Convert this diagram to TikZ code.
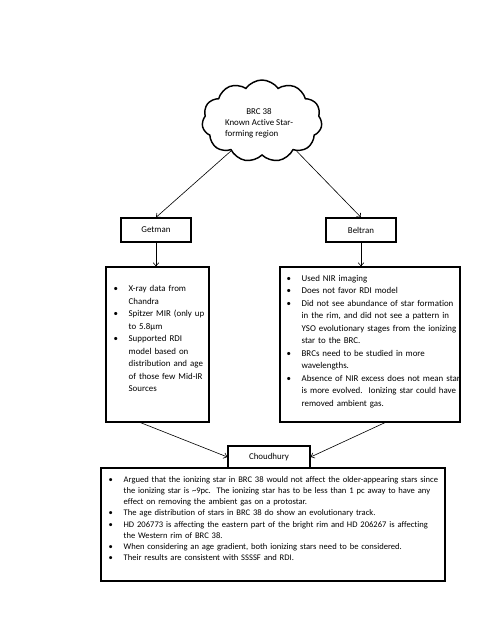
\documentclass[tikz,border=0pt]{standalone}
\usepackage{fontspec}
\setmainfont[Ligatures=NoCommon]{Carlito}
\usetikzlibrary{shapes.symbols,arrows.meta,positioning}

% 参考图的一个像素
\newlength{\px}
\setlength{\px}{1.2364pt}

% 带悬挂缩进的项目符号
\newcommand{\bul}[1]{\par\hangindent=15\px\hangafter=1\noindent\makebox[15\px][l]{\textbullet}#1}

\begin{document}
\begin{tikzpicture}[
    x=1\px, y=-1\px,
    font=\fontsize{11pt}{13.4pt}\selectfont,
    % 定义统一的线条样式
    title_box/.style={draw, line width=1.5pt, minimum width=70\px, minimum height=24\px, inner sep=0},
    list_box/.style={draw, line width=1.5pt, inner sep=0},
    list_text/.style={anchor=north west, inner sep=0, align=left, text width=#1},
    arrow_line/.style={line width=0.75pt, -{Straight Barb[length=4pt,width=7pt]}}
]

    % --- 页面范围 ---
    \fill[white] (0,0) rectangle (495,640);
    \useasboundingbox (0,0) rectangle (495,640);

    % --- 云 ---
    \node[cloud, draw, line width=1.8pt, cloud puffs=11, cloud puff arc=110, aspect=1.4,
          minimum width=120\px, minimum height=82\px, inner sep=0] (brc) at (262,121) {};
    \node (brctext) at (259,123) {\begin{tabular}{@{}l@{}}\multicolumn{1}{@{}c@{}}{BRC 38}\\Known Active Star-\\forming region\end{tabular}};

    % --- 标题框 ---
    \node[title_box] (getman) at (156,230) {Getman};
    \node[title_box] (beltran) at (361,230) {Beltran};
    \node[title_box, minimum width=82\px, minimum height=22\px] (choudhury) at (269,457) {Choudhury};

    % --- 内容框 ---
    \node[list_box, minimum width=103\px, minimum height=155\px] (getmanbox) at (157.5,344.5) {};
    \node[list_box, minimum width=180\px, minimum height=155\px] (beltranbox) at (370,344.5) {};
    \node[list_box, minimum width=344\px, minimum height=113\px] (summarybox) at (273,524.5) {};

    % 1. Getman 的条目
    \node[list_text=120\px, font=\fontsize{11pt}{15.45pt}\selectfont] (getmantext) at (113.5,279) {%
        \bul{X-ray data from\newline Chandra}
        \bul{Spitzer MIR (only up\newline to 5.8μm}
        \bul{Supported RDI\newline model based on\newline distribution and age\newline of those few Mid-IR\newline Sources}\par};

    % 2. Beltran 的条目
    \node[list_text=200\px, font=\fontsize{11pt}{15.45pt}\selectfont] (beltrantext) at (286.5,268.5) {%
        \bul{Used NIR imaging}
        \bul{Does not favor RDI model}
        \bul{Did not see abundance of star formation\newline in the rim, and did not see a pattern in\newline YSO evolutionary stages from the ionizing\newline star to the BRC.}
        \bul{BRCs need to be studied in more\newline wavelengths.}
        \bul{Absence of NIR excess does not mean star\newline is more evolved.\ \ Ionizing star could have\newline removed ambient gas.}\par};

    % 3. Choudhury 的条目
    \node[list_text=380\px, font=\fontsize{10.6pt}{13.7pt}\selectfont] (summarytext) at (108.5,471.5) {%
        \bul{Argued that the ionizing star in BRC 38 would not affect the older-appearing stars since\newline the ionizing star is \textasciitilde9pc.\ \ The ionizing star has to be less than 1 pc away to have any\newline effect on removing the ambient gas on a protostar.}
        \bul{The age distribution of stars in BRC 38 do show an evolutionary track.}
        \bul{HD 206773 is affecting the eastern part of the bright rim and HD 206267 is affecting\newline the Western rim of BRC 38.}
        \bul{When considering an age gradient, both ionizing stars need to be considered.}
        \bul{Their results are consistent with SSSSF and RDI.}\par};

    % --- 箭头 ---
    \draw[arrow_line] (brc.224) -- (getman.north);
    \draw[arrow_line] (brc.319) -- (beltran.north);
    \draw[arrow_line] (getman.south) -- (getman.south |- getmanbox.north);
    \draw[arrow_line] (beltran.south) -- (beltran.south |- beltranbox.north);
    \draw[arrow_line] ([xshift=-17\px]getmanbox.south) -- (choudhury.west);
    \draw[arrow_line] ([xshift=15\px]beltranbox.south) -- (choudhury.east);

\end{tikzpicture}
\end{document}
